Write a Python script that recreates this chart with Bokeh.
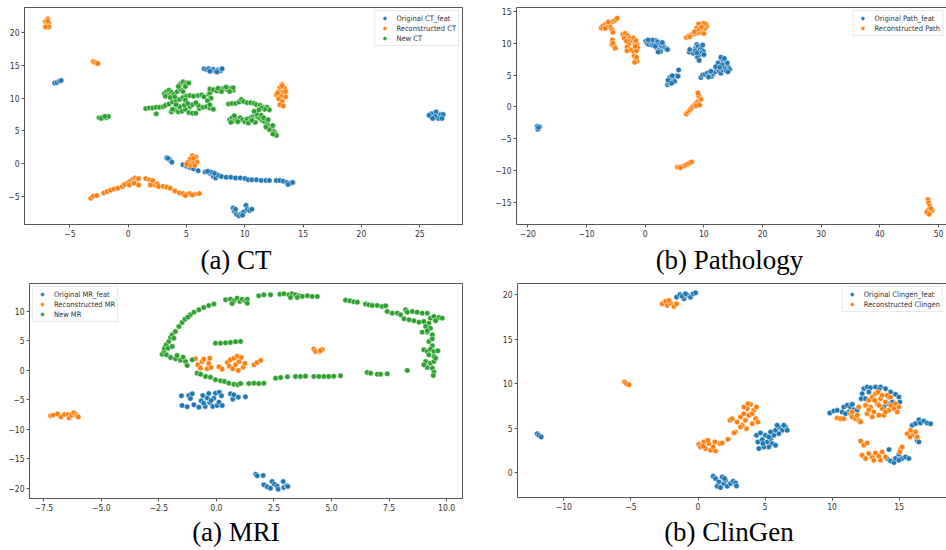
from bokeh.plotting import figure
from bokeh.models import FixedTicker, LinearAxis, Div
from bokeh.layouts import row, column
from bokeh.embed import file_html
from bokeh.resources import INLINE

BLUE, ORANGE, GREEN = "#1f77b4", "#ff7f0e", "#2ca02c"
SANS = "'Liberation Sans Narrow', 'DejaVu Sans Condensed', 'DejaVu Sans', sans-serif"
SERIF = "'Liberation Serif', 'Times New Roman', serif"

# ---------------- data: CT ----------------
ct_original = [(-6.3,12.3),(-6.1,12.4),(-5.9,12.6),(-5.75,12.7),
    (6.5,14.5),(6.7,14.4),(6.9,14.5),(7.1,14.2),(7.3,14.4),(7.5,14.1),(7.7,14.3),(7.9,14.2),(8.05,14.5),(7.0,14.1),(7.6,14.0),
    (25.9,7.2),(26.1,7.5),(26.3,7.7),(26.5,7.4),(26.7,7.2),(26.2,7.0),(26.0,7.6),(26.4,7.9),(26.8,7.5),(26.6,6.9),(26.3,7.2),(25.8,7.4),(27.0,7.5),(26.9,6.9),(26.1,6.9),
    (3.3,0.9),(3.5,0.7),(3.6,0.5),(3.75,0.2),(3.4,0.8),
    (4.7,-0.2),(5.0,-0.4),(5.3,-0.6),(5.6,-0.8),(6.0,-1.1),(6.6,-1.3),(7.0,-1.5),(7.3,-2.0),(7.5,-2.2),(7.7,-1.8),(8.0,-2.0),(8.4,-2.1),(8.8,-2.1),(9.2,-2.2),(9.6,-2.2),(10.0,-2.3),(10.3,-2.5),(10.6,-2.5),(11.0,-2.5),(11.4,-2.6),(11.8,-2.6),(12.1,-2.6),(12.7,-2.6),(13.0,-2.6),(13.3,-2.7),(13.6,-2.9),(13.9,-3.0),(14.1,-2.9),(13.7,-3.2),(7.1,-1.3),(7.4,-1.5),(6.8,-1.2),
    (9.0,-6.8),(9.1,-7.3),(9.3,-7.8),(9.5,-8.0),(9.7,-7.7),(9.9,-7.4),(10.1,-6.4),(10.2,-7.0),(10.4,-7.2),(10.6,-7.0),(9.2,-7.0),(9.8,-7.9)]
ct_reconstructed = [(-6.9,22.1),(-7.1,21.7),(-6.8,21.5),(-7.0,21.2),(-6.8,20.9),(-7.1,20.9),(-6.9,21.8),
    (-3.0,15.6),(-2.8,15.4),(-2.6,15.3),
    (13.2,12.1),(13.0,11.6),(13.4,11.5),(12.9,11.0),(13.3,10.9),(12.7,10.5),(13.1,10.3),(13.5,10.2),(12.9,9.9),(13.2,9.5),(13.0,9.0),(13.3,8.8),(12.8,10.8),(13.5,11.0),(13.2,11.9),
    (5.5,1.2),(5.8,1.0),(5.3,0.7),(5.7,0.5),(5.1,0.2),(5.5,0.0),(5.9,0.2),(5.3,-0.3),(5.7,-0.3),(5.6,0.8),(5.0,-0.1),
    (-3.2,-5.3),(-3.0,-5.0),(-2.7,-4.9),(-2.1,-4.5),(-1.8,-4.3),(-1.5,-4.1),(-1.2,-3.9),(-0.9,-3.8),(-0.5,-3.5),(-0.3,-3.2),(0.0,-2.9),(0.2,-2.7),(0.4,-2.4),(0.6,-2.2),(0.8,-2.4),(0.9,-2.3),(0.1,-3.3),(0.5,-3.0),(0.9,-3.3),
    (1.5,-2.3),(1.8,-2.5),(2.0,-2.8),(2.1,-3.1),(2.3,-3.3),(2.5,-3.1),(1.9,-3.3),(2.1,-2.6),(2.6,-3.5),(3.0,-3.5),(3.3,-3.6),(3.6,-3.8),(4.0,-4.2),(4.4,-4.5),(4.7,-4.6),(5.0,-4.7),(5.3,-4.6),(5.7,-4.7),(6.1,-4.6),(4.9,-4.9),(5.5,-4.8)]
ct_new = [(-2.5,7.0),(-2.2,7.1),(-1.9,7.0),(-1.7,7.2),(-2.3,6.9),(-2.0,7.2),
    (1.5,8.4),(1.8,8.5),(2.1,8.5),(2.4,8.6),(2.7,8.6),(3.0,8.7),(2.4,7.6),
    (3.2,8.9),(3.5,9.1),(3.8,9.4),(4.1,9.6),(4.4,9.8),(4.7,10.1),(5.0,10.3),(5.3,10.4),(5.6,10.3),(6.0,10.4),(6.3,10.5),(6.5,10.2),(6.9,10.6),(7.0,10.8),(7.1,10.0),(6.8,9.6),
    (3.1,10.7),(3.3,11.0),(3.5,11.2),(3.7,10.9),(3.4,10.4),(3.9,10.6),(4.2,11.0),(4.5,11.3),(4.7,11.0),(4.5,12.2),(4.7,12.5),(5.0,12.3),(4.3,11.8),(4.9,11.8),(5.2,12.3),(3.2,10.3),(3.6,10.1),(4.0,10.2),
    (3.7,7.9),(4.0,8.2),(4.3,7.9),(4.6,8.0),(4.9,8.3),(5.2,7.8),(5.5,7.7),(5.8,7.7),(6.1,8.4),(6.4,8.6),(6.7,8.7),(7.0,8.5),(7.3,8.3),(7.0,9.0),(6.0,8.9),(5.3,8.7),(4.8,8.9),(4.4,8.7),(4.1,9.0),(3.8,8.3),(5.5,9.0),(5.8,9.3),(4.9,9.7),(5.1,9.2),
    (7.0,11.4),(7.3,11.3),(7.6,11.1),(7.9,11.4),(8.2,11.5),(8.5,11.3),(8.8,11.5),(9.0,11.2),(8.4,11.7),(7.7,11.5),(8.0,11.0),(8.7,11.0),(9.0,11.6),
    (8.6,9.1),(8.9,9.2),(9.2,9.2),(9.5,9.4),(9.7,9.8),(9.9,9.5),(10.2,9.3),(10.5,9.3),(10.8,9.2),(11.0,9.0),(11.3,8.9),(11.6,8.6),(11.9,8.6),(12.1,8.2),(11.7,8.3),(11.4,8.5),
    (8.7,6.7),(8.9,7.0),(9.1,6.6),(9.3,6.8),(9.6,7.0),(9.8,6.7),(10.0,6.4),(10.2,6.8),(10.5,7.0),(10.7,7.2),(10.9,7.4),(11.1,7.1),(11.3,6.9),(11.5,6.6),(11.7,6.4),(11.9,6.1),(12.0,5.8),(12.2,5.5),(12.3,5.2),(12.5,4.9),(12.6,4.6),(12.7,4.3),(12.4,4.5),(12.1,5.2),(11.4,7.4),(11.0,7.6),(10.9,6.3),(10.3,6.2),(9.4,6.4),(8.8,6.3),(9.1,7.3),(11.6,7.0),(12.0,6.7),(10.8,8.0),(11.2,8.2),(10.6,6.6),(11.8,5.6),(12.4,5.8)]
ct_xticks = [-5, 0, 5, 10, 15, 20, 25]
ct_xlabels = ["\u22125", "0", "5", "10", "15", "20", "25"]
ct_yticks = [-5, 0, 5, 10, 15, 20]
ct_ylabels = ["\u22125", "0", "5", "10", "15", "20"]

# ---------------- data: Pathology ----------------
path_original = [(-18.4,-3.0),(-18.1,-3.3),(-18.3,-3.5),(-18.0,-3.1),(-18.2,-3.2),
    (0.1,10.3),(0.3,10.0),(0.6,9.8),(0.9,10.1),(1.2,9.7),(1.5,9.9),(1.8,10.4),(2.1,10.2),(2.4,9.8),(2.7,9.5),(3.0,9.9),(3.3,9.3),(3.6,9.1),(2.0,9.2),(2.3,8.9),(2.6,8.7),(1.7,9.5),(2.9,10.1),(1.2,10.5),(0.5,10.5),(3.8,9.0),(2.2,8.6),
    (3.8,3.5),(4.1,3.8),(4.4,4.1),(4.7,4.4),(5.0,4.6),(5.3,4.9),(4.2,4.6),(4.6,4.9),(5.0,4.0),(3.9,4.2),(5.7,5.8),(5.6,4.8),(4.5,3.7),
    (7.5,8.6),(7.6,9.0),(8.2,8.4),(8.6,9.2),(8.8,9.8),(9.0,9.5),(9.3,9.0),(9.6,9.3),(9.9,8.7),(9.5,8.4),(9.1,8.0),(8.9,7.8),(9.2,7.3),(9.8,9.7),(8.5,8.8),(10.0,8.2),(8.8,8.5),
    (9.5,4.6),(9.8,5.0),(10.2,5.1),(10.6,5.3),(11.0,5.0),(11.3,4.8),(11.6,5.2),(11.9,5.5),(11.2,5.6),(10.8,4.7),
    (12.2,6.0),(12.5,6.5),(12.8,7.0),(13.0,7.5),(13.3,7.2),(13.6,6.8),(13.9,6.5),(14.2,6.2),(14.4,5.9),(12.6,5.6),(12.9,5.3),(13.2,5.8),(13.5,6.1),(13.8,5.7),(14.1,5.5),(12.4,6.9),(12.9,7.8),(13.5,7.6),(12.0,6.3),(13.1,6.6),(14.0,6.9),(12.7,6.2)]
path_reconstructed = [(-7.5,12.4),(-7.2,12.7),(-6.8,12.9),(-6.5,12.5),(-6.2,12.8),(-5.9,13.2),(-5.5,13.4),(-5.1,13.6),(-4.8,13.9),(-6.3,13.3),(-6.8,12.3),(-5.9,12.5),(-5.7,12.1),(-5.5,11.7),
    (-5.6,10.5),(-5.7,9.8),(-5.3,9.5),(-5.1,9.2),(-5.5,10.0),
    (-3.8,11.4),(-3.4,11.5),(-3.0,11.2),(-2.7,10.8),(-3.6,10.8),(-3.2,10.3),(-2.5,10.4),(-2.1,10.3),(-1.7,10.0),(-1.4,9.8),(-1.3,9.3),(-2.8,9.8),(-3.1,9.4),(-2.7,9.0),(-3.1,8.8),(-2.3,8.9),(-1.9,8.6),(-1.5,8.8),(-1.7,9.5),(-1.9,8.0),(-1.6,7.5),(-1.4,7.2),(-1.8,7.0),(-1.5,7.8),(-2.0,10.8),(-1.6,10.4),
    (7.0,10.9),(7.4,11.1),(7.8,11.3),(8.2,11.4),(8.6,11.5),(9.0,11.6),(9.4,11.7),(9.8,12.0),(10.2,12.3),(10.5,12.7),(10.3,13.0),(9.9,13.1),(9.5,12.8),(9.1,13.0),(8.8,12.4),(9.2,12.2),(9.6,12.5),(10.0,11.5),(7.6,11.0),(8.4,11.8),
    (7.0,-1.1),(7.3,-0.8),(7.6,-0.5),(7.9,-0.2),(8.2,0.1),(8.5,0.4),(8.8,0.7),(9.1,1.0),(9.3,1.4),(9.1,1.8),(9.0,2.2),(9.5,1.2),(8.7,0.2),(9.3,0.3),
    (5.5,-9.4),(5.9,-9.4),(6.3,-9.3),(6.7,-9.2),(7.1,-9.0),(7.5,-8.8),(7.9,-8.6),(6.0,-9.5),
    (48.2,-14.5),(48.3,-15.0),(48.5,-15.5),(48.2,-16.2),(48.6,-16.5),(48.9,-16.2),(48.0,-16.5),(48.4,-16.8),(48.7,-15.9)]
path_xticks = [-20, -10, 0, 10, 20, 30, 40, 50]
path_xlabels = ["\u221220", "\u221210", "0", "10", "20", "30", "40", "50"]
path_yticks = [-15, -10, -5, 0, 5, 10, 15]
path_ylabels = ["\u221215", "\u221210", "\u22125", "0", "5", "10", "15"]

# ---------------- data: MRI ----------------
mr_original = [(-1.52,-4.32),(-1.2,-4.26),(-1.13,-4.77),(-1.05,-3.98),(-1.49,-5.96),(-1.27,-6.19),(-0.98,-5.85),(-0.76,-6.24),(-0.66,-5.17),(-0.59,-4.26),(-0.49,-6.13),(-0.40,-4.71),(-0.33,-3.92),(-0.29,-5.45),(-0.16,-6.13),(-0.11,-4.71),(-0.04,-3.87),(0.03,-5.96),(0.11,-5.39),(0.13,-3.70),(0.22,-4.32),(0.25,-5.96),(0.61,-3.98),(0.71,-4.88),(0.76,-4.15),(0.95,-4.55),(1.26,-4.49),(-0.55,-5.56),(-0.23,-5.11),
    (1.71,-17.62),(1.77,-17.9),(2.03,-17.84),(2.06,-19.43),(2.21,-19.77),(2.35,-20.0),(2.42,-18.87),(2.52,-19.32),(2.64,-19.66),(2.68,-20.17),(2.90,-18.87),(2.93,-19.88),(3.05,-19.6),(3.10,-19.7)]
mr_reconstructed = [(-7.2,-7.7),(-7.1,-7.6),(-6.9,-7.4),(-6.75,-7.9),(-6.6,-7.5),(-6.45,-7.5),(-6.4,-8.1),(-6.3,-7.6),(-6.2,-7.2),(-6.1,-7.5),(-6.05,-7.8),(-6.0,-7.9),
    (-0.91,1.96),(-0.81,0.94),(-0.69,0.38),(-0.62,1.51),(-0.55,1.91),(-0.40,0.27),(-0.33,1.17),(-0.29,2.08),(-0.23,0.49),(0.11,0.61),(0.25,0.21),(0.47,1.34),(0.56,0.72),(0.61,1.79),(0.71,0.27),(0.76,2.08),(0.83,0.94),(0.90,2.42),(0.95,-0.02),(0.99,1.51),(1.08,2.19),(1.16,0.55),(1.24,1.17),(1.63,0.94),(1.77,1.34),(1.92,1.68),
    (4.23,3.60),(4.31,3.21),(4.48,3.21),(4.60,3.55),(4.52,3.38)]
mr_new = [(-2.36,2.76),(-2.28,3.21),(-2.26,3.77),(-2.18,4.34),(-2.07,4.91),(-1.99,5.59),(-1.92,6.04),(-1.78,6.60),(-1.63,7.45),(-1.49,8.13),(-1.37,8.70),(-1.13,9.43),(-0.98,9.89),(-0.76,10.28),(-0.55,10.68),(-0.33,11.02),(-0.11,11.25),(-2.10,3.77),(-1.92,4.06),(-2.17,2.64),(-1.99,2.19),(-1.78,1.96),(-1.56,1.74),(-1.34,1.51),(-1.27,0.83),(-1.45,2.25),(-1.71,2.53),(-1.05,1.79),(-1.85,5.47),(-1.24,9.04),
    (0.40,11.98),(0.61,12.09),(0.76,11.81),(0.90,12.26),(1.02,11.70),(1.12,12.09),(1.26,11.81),(1.34,12.09),(0.68,11.36),(1.34,11.41),
    (1.84,12.66),(2.06,12.83),(2.35,12.83),(2.76,12.94),(2.93,13.0),(3.15,12.83),(3.29,13.0),(3.44,12.83),(3.58,12.66),(3.73,12.55),(3.95,12.66),(4.16,12.55),(4.38,12.55),(3.51,12.38),(3.22,12.38),
    (5.61,11.92),(5.80,11.81),(5.97,11.64),(6.12,11.58),
    (6.48,11.25),(6.62,11.13),(6.77,11.02),(6.99,11.02),(7.20,10.85),(7.35,10.96),
    (7.42,10.0),(7.64,9.72),(7.86,9.72),(8.0,9.43),(8.22,10.28),(8.29,9.89),(8.51,10.0),(8.72,9.89),(8.94,9.72),(9.16,9.72),(8.15,8.75),(8.37,8.59),(8.58,8.42),(8.80,8.19),(9.01,8.30),
    (9.30,8.87),(9.45,9.15),(9.67,8.98),(9.81,8.87),(9.52,8.42),(9.23,8.02),(9.09,7.45),(9.30,7.17),(9.16,6.49),(8.94,6.49),(9.38,6.04),(9.23,4.91),(9.38,4.17),(9.01,3.49),(9.16,3.21),(9.30,3.60),(9.45,3.21),(9.62,3.32),(9.23,2.64),(9.45,2.36),(9.09,1.51),(9.30,1.23),(9.45,1.51),(9.16,0.49),(9.38,0.38),(9.45,-0.30),(9.42,-0.87),(9.16,6.72),(9.38,5.36),(9.52,2.08),(9.01,0.94),
    (8.29,-0.02),
    (-0.84,-0.47),(-0.69,-0.64),(-0.47,-1.04),(-0.26,-1.15),(-0.04,-1.60),(0.18,-1.77),(0.35,-1.88),(0.54,-2.17),(0.76,-2.34),(0.93,-2.45),(1.05,-2.23),(1.41,-2.23),(1.63,-2.17),(1.84,-2.23),(2.06,-2.17),(2.57,-1.32),(2.79,-1.21),(3.08,-1.09),(3.44,-1.04),(3.65,-1.04),(3.87,-0.98),(4.23,-1.04),(4.45,-1.04),(4.67,-1.04),(4.88,-1.04),(5.10,-0.98),(5.39,-0.92),(6.55,-0.36),(6.70,-0.47),(6.99,-0.64),(7.13,-0.64),(7.42,-0.58),
    (-0.04,4.62),(0.18,4.62),(0.40,4.68),(0.61,4.74),(0.83,4.85),(1.05,4.91)]
mr_xticks = [-7.5, -5.0, -2.5, 0.0, 2.5, 5.0, 7.5, 10.0]
mr_xlabels = ["\u22127.5", "\u22125.0", "\u22122.5", "0.0", "2.5", "5.0", "7.5", "10.0"]
mr_yticks = [-20, -15, -10, -5, 0, 5, 10]
mr_ylabels = ["\u221220", "\u221215", "\u221210", "\u22125", "0", "5", "10"]

# ---------------- data: ClinGen ----------------
cg_original = [(-1.60,19.74),(-1.35,20.04),(-1.05,19.55),(-0.81,20.0),(-0.56,19.74),(-0.36,20.11),(-0.18,20.22),(-1.18,19.85),(-0.93,20.11),
    (-11.99,4.41),(-11.86,4.22),(-11.69,4.04),
    (1.13,-0.37),(1.31,-0.64),(1.56,-1.01),(1.43,-1.50),(1.80,-0.45),(1.93,-1.20),(2.05,-0.82),(2.18,-1.50),(2.43,-1.20),(2.62,-0.93),(2.80,-1.12),(2.87,-1.46),(1.68,-1.65),(1.98,-0.64),
    (4.36,4.22),(4.66,4.49),(5.03,4.22),(4.46,3.48),(4.79,3.74),(5.16,3.48),(5.41,3.85),(5.53,3.29),(5.28,2.92),(4.91,2.92),(4.54,2.73),(5.78,3.10),(5.66,4.22),(5.78,4.79),(6.03,5.16),(6.28,4.79),(6.53,5.16),(6.65,4.79),(5.90,5.35),(6.03,4.41),(6.40,5.35),(5.41,4.60),(5.28,4.04),(4.84,3.29),
    (12.37,9.46),(12.61,9.64),(12.86,9.57),(13.24,9.64),(13.61,9.64),(13.98,9.46),(14.36,9.08),(14.73,8.82),(14.98,8.52),(15.05,7.96),(12.24,8.90),(12.17,8.34),(12.49,8.34),(14.11,7.78),(14.48,7.96),(14.86,7.48),(13.86,7.40),(12.74,9.08),(13.49,9.34),(14.23,8.52),
    (9.83,6.73),(10.13,6.95),(10.38,7.03),(10.75,6.84),(10.87,7.40),(11.12,7.59),(11.37,7.40),(11.25,6.84),(11.00,6.65),(11.62,7.10),(11.87,7.03),(11.50,7.70),
    (15.97,5.35),(16.22,5.53),(16.47,5.98),(16.59,5.61),(16.84,5.83),(17.09,5.61),(17.34,5.53),(16.34,3.66),(16.47,3.48),
    (14.11,1.61),(14.36,1.35),(14.61,1.16),(14.73,1.61),(14.98,2.09),(15.22,1.61),(15.47,1.79),(15.72,1.61),(14.98,1.42),(14.24,2.62)]
cg_reconstructed = [(-2.67,18.99),(-2.42,19.29),(-2.30,18.80),(-2.05,19.07),(-1.80,18.69),(-1.60,18.99),(-2.17,19.36),
    (-5.48,10.21),(-5.33,10.02),(-5.15,9.91),
    (0.06,3.21),(0.19,2.92),(0.44,3.48),(0.56,2.73),(0.81,3.29),(0.93,2.54),(1.13,2.92),(1.26,3.48),(1.31,2.47),(0.39,3.0),(0.74,3.66),
    (1.63,3.29),(1.80,3.36),(2.23,3.78),
    (2.38,5.91),(2.55,6.09),(2.80,4.60),(2.92,5.72),(3.17,6.28),(3.30,5.35),(3.42,6.65),(3.54,5.91),(3.67,7.22),(3.79,6.47),(3.92,7.70),(4.04,5.53),(4.16,7.03),(4.29,6.09),(4.36,7.40),(4.46,5.72),(3.62,4.97),(3.17,5.16),(3.72,7.78),(3.42,7.40),(4.04,6.65),(2.68,4.49),
    (12.49,7.59),(12.74,8.15),(12.86,7.40),(12.99,8.52),(13.11,6.84),(13.24,8.90),(13.36,7.78),(13.49,6.47),(13.61,8.34),(13.73,7.22),(13.86,6.47),(13.98,7.96),(14.11,8.71),(14.23,7.03),(14.36,7.59),(14.61,7.22),(14.73,7.78),(14.98,7.40),(14.86,6.84),(12.61,6.65),(12.99,6.28),(13.42,9.08),(13.17,8.15),(13.73,8.71),(13.49,7.59),(13.98,6.84),(14.36,8.52),(12.74,7.10),
    (10.38,6.17),(10.63,6.09),(10.87,6.09),(11.37,6.65),(11.50,6.28),(11.75,6.09),(11.99,5.91),(12.12,5.72),(11.87,6.47),(11.99,7.40),(11.50,6.84),
    (15.60,4.41),(15.85,4.79),(15.97,4.22),(16.22,4.60),(16.34,4.04),(15.80,4.04),
    (12.12,3.59),(12.37,3.10),(12.61,3.36),(12.24,1.98),(12.49,1.61),(12.74,2.17),(12.99,1.72),(13.24,2.24),(13.49,1.87),(13.73,2.36),(13.98,1.79),(13.11,1.42),(13.61,1.42),(15.10,2.62),(15.22,2.92),(15.05,2.36)]
cg_xticks = [-10, -5, 0, 5, 10, 15]
cg_xlabels = ["\u221210", "\u22125", "0", "5", "10", "15"]
cg_yticks = [0, 5, 10, 15, 20]
cg_ylabels = ["0", "5", "10", "15", "20"]

captions = ["(a) CT", "(b) Pathology", "(a) MRI", "(b) ClinGen"]

AX = "#555555"


def style_axis(ax, ticks, labels):
    ax.ticker = FixedTicker(ticks=ticks)
    ax.major_label_overrides = {t: l for t, l in zip(ticks, labels)}
    ax.axis_line_color = AX
    ax.axis_line_width = 1
    ax.major_tick_line_color = AX
    ax.major_tick_out = 3
    ax.major_tick_in = 0
    ax.minor_tick_line_color = None
    ax.major_label_text_font = SANS
    ax.major_label_text_font_size = "8.5px"
    ax.major_label_text_color = "#333333"
    ax.major_label_standoff = 2


def panel(xr, yr, fw, fh, bl, br, bt, bb, xt, xl, yt, yl, series, leg_loc, right_side):
    p = figure(x_range=xr, y_range=yr, frame_width=fw, frame_height=fh,
               min_border_left=bl, min_border_right=br, min_border_top=bt,
               min_border_bottom=bb, output_backend="svg", toolbar_location=None,
               tools="")
    p.xgrid.visible = False
    p.ygrid.visible = False
    p.background_fill_color = "white"
    p.border_fill_color = "white"
    for pts, color, name in series:
        p.scatter([a for a, b in pts], [b for a, b in pts], size=5.5,
                  fill_color=color, line_color="white", line_width=0.5,
                  legend_label=name)
    style_axis(p.xaxis[0], xt, xl)
    style_axis(p.yaxis[0], yt, yl)
    if right_side:
        p.outline_line_color = None
        top = LinearAxis(ticker=FixedTicker(ticks=[]), axis_line_color=AX,
                         major_tick_line_color=None, minor_tick_line_color=None,
                         major_label_text_font_size="0px", major_label_standoff=0,
                         major_tick_out=0, major_tick_in=0)
        p.add_layout(top, "above")
    else:
        p.outline_line_color = AX
        p.outline_line_width = 1
    leg = p.legend[0]
    leg.location = leg_loc
    leg.margin = 3
    leg.padding = 2
    leg.spacing = 0
    leg.label_height = 10
    leg.glyph_height = 10
    leg.glyph_width = 14
    leg.label_standoff = 5
    leg.label_text_font = SANS
    leg.label_text_font_size = "7.5px"
    leg.label_text_color = "#333333"
    leg.border_line_color = "#d4d4d4"
    leg.border_line_width = 1
    leg.background_fill_alpha = 0.85
    return p


def caption(text, width, height, center, pad_top):
    html = ('<div style="width:%dpx;text-align:center;padding-top:%dpx;'
            'font-family:%s;font-size:27px;line-height:27px;color:#000;'
            'white-space:nowrap;">%s</div>') % (int(2 * center), pad_top, SERIF.replace("'", ""), text)
    return Div(text=html, width=width, height=height, margin=0)


# top row: plots 245 px + captions 37 px; bottom row: plots 235 px + captions 32 px
p_ct = panel((-8.89, 28.66), (-9.33, 23.87), 438, 217, 24, 29, 6, 22,
             ct_xticks, ct_xlabels, ct_yticks, ct_ylabels,
             [(ct_original, BLUE, "Original CT_feat"),
              (ct_reconstructed, ORANGE, "Reconstructed CT"),
              (ct_new, GREEN, "New CT")], "top_right", False)

p_path = panel((-21.94, 51.36), (-18.40, 15.58), 430, 217, 25, 0, 7, 21,
               path_xticks, path_xlabels, path_yticks, path_ylabels,
               [(path_original, BLUE, "Original Path_feat"),
                (path_reconstructed, ORANGE, "Reconstructed Path")], "top_right", True)

p_mr = panel((-8.12, 10.69), (-21.75, 14.75), 433, 215, 29, 29, 0, 20,
             mr_xticks, mr_xlabels, mr_yticks, mr_ylabels,
             [(mr_original, BLUE, "Original MR_feat"),
              (mr_reconstructed, ORANGE, "Reconstructed MR"),
              (mr_new, GREEN, "New MR")], "top_left", False)

p_cg = panel((-13.46, 18.53), (-2.76, 21.27), 429, 214, 26, 0, 1, 20,
             cg_xticks, cg_xlabels, cg_yticks, cg_ylabels,
             [(cg_original, BLUE, "Original Clingen_feat"),
              (cg_reconstructed, ORANGE, "Reconstructed Clingen")], "top_right", True)

cap_ct = caption(captions[0], 491, 37, 236, 2)
cap_path = caption(captions[1], 455, 37, 729.5 - 491, 2)
cap_mr = caption(captions[2], 491, 32, 236, 2)
cap_cg = caption(captions[3], 455, 32, 729 - 491, 2)

layout = column(row(p_ct, p_path), row(cap_ct, cap_path),
                row(p_mr, p_cg), row(cap_mr, cap_cg))
open("out.html", "w").write(file_html(layout, INLINE, "tSNE panels"))
